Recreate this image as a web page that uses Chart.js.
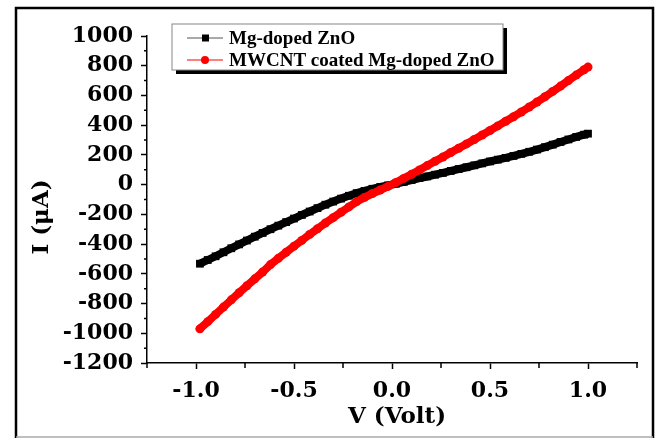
<!DOCTYPE html>
<html>
<head>
<meta charset="utf-8">
<script src="https://cdn.jsdelivr.net/npm/chart.js@4.4.0/dist/chart.umd.min.js"></script>
<style>
  html, body { margin: 0; padding: 0; background: #fff; }
  #wrap { width: 659px; height: 438px; position: relative; }
</style>
</head>
<body>
<div id="wrap"><canvas id="myChart"></canvas></div>
<script>
// voltage sweep (V)
const voltage = [
  -0.98, -0.94, -0.90, -0.86, -0.82, -0.78, -0.74, -0.70, -0.66, -0.62,
  -0.58, -0.54, -0.50, -0.46, -0.42, -0.38, -0.34, -0.30, -0.26, -0.22,
  -0.18, -0.14, -0.10, -0.06, -0.02, 0.02, 0.06, 0.10, 0.14, 0.18,
  0.22, 0.26, 0.30, 0.34, 0.38, 0.42, 0.46, 0.50, 0.54, 0.58,
  0.62, 0.66, 0.70, 0.74, 0.78, 0.82, 0.86, 0.90, 0.94, 0.98, 1.00
];
// current (uA), Mg-doped ZnO
const mgDoped = [
  -532, -507, -482, -455, -428, -402, -376, -350, -325, -300,
  -276, -252, -228, -204, -181, -158, -135, -114, -94, -75,
  -57, -42, -28, -16, -5, 6, 18, 31, 44, 55,
  67, 79, 92, 105, 117, 130, 143, 156, 168, 180,
  193, 207, 221, 236, 252, 269, 287, 304, 321, 336, 343
];
// current (uA), MWCNT coated Mg-doped ZnO
const mwcntCoated = [
  -970, -922, -873, -824, -775, -727, -680, -634, -588, -538,
  -496, -455, -414, -375, -335, -297, -258, -222, -186, -150,
  -114, -86, -60, -36, -12, 14, 42, 70, 99, 128,
  157, 186, 216, 245, 274, 304, 334, 364, 395, 426,
  457, 489, 522, 556, 591, 627, 663, 700, 737, 773, 791
];
const seriesNames = ['Mg-doped ZnO', 'MWCNT coated Mg-doped ZnO'];
const xTicks = [-1.0, -0.5, 0.0, 0.5, 1.0];
const xMinorTicks = [-1.25, -0.75, -0.25, 0.25, 0.75, 1.25];
const yMinorTicks = [-1100, -900, -700, -500, -300, -100, 100, 300, 500, 700, 900];

const tickFont = { family: 'DejaVu Serif', weight: 'bold', size: 22 };

function toPoints(ys) {
  return voltage.map((v, i) => ({ x: v, y: ys[i] }));
}

// frame, minor ticks, axis titles and the boxed legend
const decorations = {
  id: 'decorations',
  afterDraw(chart) {
    const ctx = chart.ctx;
    const xs = chart.scales.x, ys = chart.scales.y;
    ctx.save();

    // minor ticks
    ctx.strokeStyle = '#000';
    ctx.lineWidth = 1.5;
    ctx.beginPath();
    yMinorTicks.forEach(v => {
      const p = ys.getPixelForValue(v);
      ctx.moveTo(xs.left - 3, p);
      ctx.lineTo(xs.left, p);
    });
    xMinorTicks.forEach(v => {
      const p = xs.getPixelForValue(v);
      ctx.moveTo(p, ys.bottom);
      ctx.lineTo(p, ys.bottom + 5);
    });
    ctx.stroke();

    // axis titles
    ctx.font = 'bold 23px "DejaVu Serif"';
    ctx.fillStyle = '#000';
    ctx.textAlign = 'center';
    ctx.textBaseline = 'middle';
    ctx.fillText('V (Volt)', 397, 417);
    ctx.save();
    ctx.translate(42, 217);
    ctx.rotate(-Math.PI / 2);
    ctx.fillText('I (μA)', 0, 0);
    ctx.restore();

    // outer frame
    ctx.lineWidth = 2.5;
    ctx.beginPath();
    ctx.moveTo(16, 438);
    ctx.lineTo(16, 8);
    ctx.lineTo(653, 8);
    ctx.lineTo(653, 438);
    ctx.stroke();
    ctx.strokeStyle = '#aaa';
    ctx.lineWidth = 1.5;
    ctx.beginPath();
    ctx.moveTo(16, 437);
    ctx.lineTo(653, 437);
    ctx.stroke();

    // legend
    const bx = 172, by = 24, bw = 331, bh = 46;
    ctx.fillStyle = '#000';
    ctx.fillRect(bx + 4, by + 4, bw, bh);
    ctx.fillStyle = '#fff';
    ctx.fillRect(bx, by, bw, bh);
    ctx.strokeStyle = '#888';
    ctx.lineWidth = 1;
    ctx.strokeRect(bx, by, bw, bh);

    const rows = [38, 60];
    ctx.font = 'bold 19px "Liberation Serif"';
    ctx.textBaseline = 'middle';
    ctx.textAlign = 'left';

    ctx.strokeStyle = '#555';
    ctx.lineWidth = 1.2;
    ctx.beginPath();
    ctx.moveTo(187, rows[0]);
    ctx.lineTo(223, rows[0]);
    ctx.stroke();
    ctx.fillStyle = '#000';
    ctx.fillRect(202, rows[0] - 3.5, 7, 7);
    ctx.fillText(seriesNames[0], 229, rows[0] + 1);

    ctx.strokeStyle = '#ff0000';
    ctx.beginPath();
    ctx.moveTo(187, rows[1]);
    ctx.lineTo(223, rows[1]);
    ctx.stroke();
    ctx.fillStyle = '#ff0000';
    ctx.beginPath();
    ctx.arc(205, rows[1], 4, 0, Math.PI * 2);
    ctx.fill();
    ctx.fillStyle = '#000';
    ctx.fillText(seriesNames[1], 229, rows[1] + 1);

    ctx.restore();
  }
};

const ctx = document.getElementById('myChart');

new Chart(ctx, {
  type: 'line',
  data: {
    datasets: [{
      label: seriesNames[0],
      data: toPoints(mgDoped),
      borderColor: '#000',
      backgroundColor: '#000',
      borderWidth: 8,
      pointStyle: 'rect',
      pointRadius: 5.5,
      pointBorderWidth: 0,
      order: 2
    }, {
      label: seriesNames[1],
      data: toPoints(mwcntCoated),
      borderColor: '#ff0000',
      backgroundColor: '#ff0000',
      borderWidth: 8,
      borderCapStyle: 'round',
      pointStyle: 'circle',
      pointRadius: 4.5,
      pointBorderWidth: 0,
      order: 1
    }]
  },
  options: {
    responsive: true,
    maintainAspectRatio: false,
    animation: false,
    layout: { padding: { top: 36, right: 22, left: 0, bottom: 0 } },
    plugins: {
      legend: { display: false },
      tooltip: { enabled: false }
    },
    scales: {
      x: {
        type: 'linear',
        min: -1.25,
        max: 1.25,
        afterBuildTicks: s => { s.ticks = xTicks.map(v => ({ value: v })); },
        afterFit: s => { s.height = 75; },
        ticks: {
          font: tickFont,
          color: '#000',
          padding: 9,
          maxRotation: 0,
          autoSkip: false,
          callback: v => v.toFixed(1)
        },
        grid: { drawOnChartArea: false, tickLength: 6, tickColor: '#000', tickWidth: 1.5 },
        border: { color: '#000', width: 1.5 },
        title: { display: false }
      },
      y: {
        min: -1200,
        max: 1000,
        afterFit: s => { s.width = 147; },
        ticks: {
          stepSize: 200,
          font: tickFont,
          color: '#000',
          padding: 8,
          callback: v => String(v)
        },
        grid: { drawOnChartArea: false, tickLength: 6, tickColor: '#000', tickWidth: 1.5 },
        border: { color: '#000', width: 1.5 },
        title: { display: false }
      }
    }
  },
  plugins: [decorations]
});
</script>
</body>
</html>
